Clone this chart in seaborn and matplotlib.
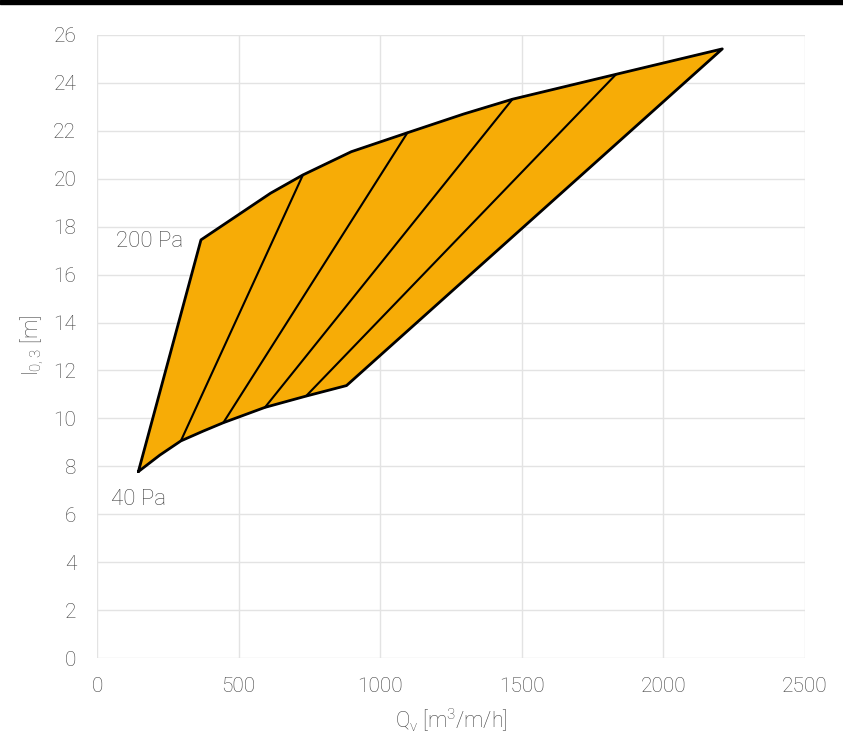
import numpy as np
import pandas as pd
import matplotlib
matplotlib.use('Agg')
import matplotlib.pyplot as plt
import seaborn as sns

# upper boundary (200 Pa) and lower boundary (40 Pa) of the working area
top_q = [367, 613, 727, 898, 1096, 1294, 1467, 1833, 2208]
top_l = [17.45, 19.4, 20.16, 21.13, 21.92, 22.7, 23.32, 24.36, 25.42]
bottom_q = [146, 222, 296, 375, 446, 593, 738, 881]
bottom_l = [7.78, 8.47, 9.06, 9.47, 9.82, 10.46, 10.93, 11.37]

# intermediate diagonal lines (low end -> high end)
diag_q_low = [296, 446, 593, 738]
diag_l_low = [9.06, 9.82, 10.46, 10.93]
diag_q_high = [727, 1096, 1467, 1833]
diag_l_high = [20.16, 21.92, 23.32, 24.36]

x_ticks = [0, 500, 1000, 1500, 2000, 2500]
y_ticks = list(range(0, 27, 2))

sns.set_theme(style='whitegrid')
plt.rcParams['font.family'] = ['Roboto', 'DejaVu Sans']
plt.rcParams['font.weight'] = 'light'
plt.rcParams['axes.labelweight'] = 'light'
plt.rcParams['mathtext.default'] = 'regular'

text_color = '#404040'
fill_color = '#F7AC06'

# closed outline: left edge, top curve, right edge, bottom curve back
outline = pd.DataFrame({
    'q': [bottom_q[0]] + top_q + bottom_q[::-1],
    'l': [bottom_l[0]] + top_l + bottom_l[::-1],
})

fig = plt.figure(figsize=(8.43, 7.51), dpi=100)
ax = fig.add_axes([0.1151, 0.1238, 0.8398, 0.8296])

ax.fill(outline['q'], outline['l'], color=fill_color, zorder=2)
sns.lineplot(data=outline, x='q', y='l', sort=False, estimator=None,
             color='black', linewidth=2, ax=ax, zorder=4)

for q0, l0, q1, l1 in zip(diag_q_low, diag_l_low, diag_q_high, diag_l_high):
    seg = pd.DataFrame({'q': [q0, q1], 'l': [l0, l1]})
    sns.lineplot(data=seg, x='q', y='l', sort=False, estimator=None,
                 color='black', linewidth=1.5, ax=ax, zorder=3)

ax.text(304, 17.38, '200 Pa', ha='right', va='center', fontsize=16, color=text_color)
ax.text(145, 6.6, '40 Pa', ha='center', va='center', fontsize=16, color=text_color)

ax.set_xlim(0, 2500)
ax.set_ylim(0, 26)
ax.set_xticks(x_ticks)
ax.set_yticks(y_ticks)
ax.tick_params(axis='x', length=0, labelsize=15, labelcolor=text_color, pad=14)
ax.tick_params(axis='y', length=0, labelsize=15, labelcolor=text_color, pad=15)
ax.set_xlabel('Q$_v$ [m$^3$/m/h]', fontsize=15.5, color=text_color, va='center')
ax.set_ylabel('l$_{0,3}$ [m]', fontsize=15.5, color=text_color, va='center')
ax.xaxis.set_label_coords(0.5, -0.0995)
ax.yaxis.set_label_coords(-0.092, 0.502)
ax.grid(True, color='#E3E3E3', linewidth=1)
ax.set_facecolor('white')
for s in ax.spines.values():
    s.set_visible(False)

# dark strip along the top edge
fig.patches.append(plt.Rectangle((0, 1 - 4 / 751), 1, 4 / 751, transform=fig.transFigure,
                                 color='black', zorder=10))

fig.savefig('out.png', dpi=100)
